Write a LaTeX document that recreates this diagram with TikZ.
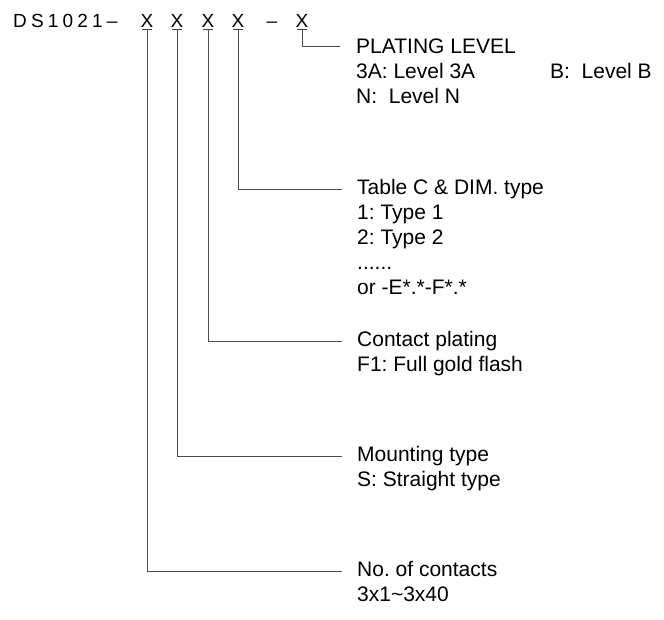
\documentclass[tikz,border=0pt]{standalone}
\usepackage{fontspec}
\setmainfont{Liberation Sans}
\usepackage{tikz}
\usetikzlibrary{positioning, calc}

\tikzset{
  code/.style={inner sep=0pt, font=\fontsize{19}{19}\selectfont},
  bar/.style={draw=black!75, line width=0.9pt},
  lead/.style={draw=black!70, line width=0.9pt},
  note/.style={anchor=north west, align=left, inner sep=0pt,
               font=\fontsize{21}{25}\selectfont\frenchspacing,
               execute at begin node=\strut}
}

\begin{document}
\begin{tikzpicture}[x=1pt, y=-1pt]
    \useasboundingbox (0,0) rectangle (664,620);
    % part number
    \node[code, anchor=base west] (pn) at (13,27.5)
      {\addfontfeature{LetterSpace=22}DS1021–};
    \foreach \n/\xc in {1/147, 2/177, 3/208, 4/238, 5/302} {
      \node[code, anchor=base] (x\n) at (\xc,27.5) {X};
      \draw[bar] ([xshift=-5pt, yshift=-1.5pt]x\n.base)
        -- ([xshift=5pt, yshift=-1.5pt]x\n.base);
    }
    \node[code, anchor=base] (dsh) at (272,27.5) {–};
    % line ends
    \coordinate (e5) at (340,46);
    \coordinate (e4) at (342,189);
    \coordinate (e3) at (342,341);
    \coordinate (e2) at (342,456);
    \coordinate (e1) at (342,571);
    % leads
    \foreach \n in {1,...,5} {
      \draw[lead] ([yshift=-1.5pt]x\n.base) |- (e\n);
    }
    % notes (strut top sits 17.5pt over the first baseline)
    \node[note] (n5) at ([xshift=16pt, yshift=7pt]e5)
      {PLATING LEVEL\\
       \makebox[194pt][l]{3A: Level 3A}B:\ \ Level B\\
       N:\ \ Level N};
    \node[note] (n4) at ([xshift=15pt, yshift=9.5pt]e4)
      {Table C \& DIM. type\\ 1: Type 1\\ 2: Type 2\\ ......\\ or -E*.*-F*.*};
    \node[note] (n3) at ([xshift=15pt, yshift=9.5pt]e3)
      {Contact plating\\ F1: Full gold flash};
    \node[note] (n2) at ([xshift=15pt, yshift=9.5pt]e2)
      {Mounting type\\ S: Straight type};
    \node[note] (n1) at ([xshift=15pt, yshift=9.5pt]e1)
      {No. of contacts\\ 3x1\textasciitilde 3x40};
  \end{tikzpicture}
\end{document}
